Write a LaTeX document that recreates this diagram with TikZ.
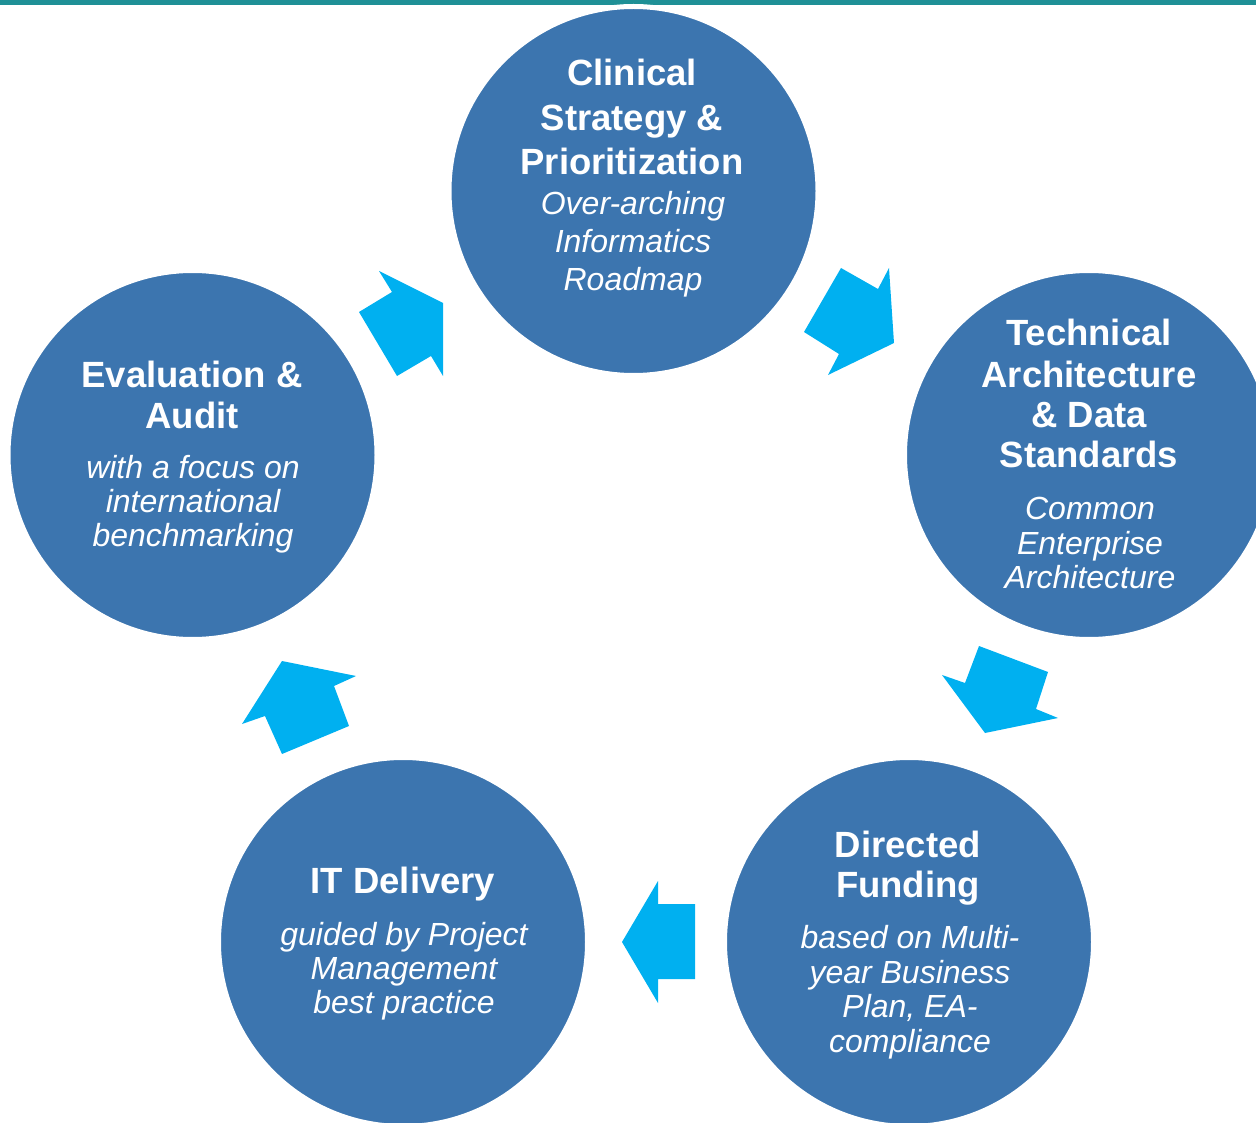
\documentclass[tikz,border=0pt]{standalone}
\usepackage{fontspec}
\setmainfont{Liberation Sans}
\definecolor{circ}{HTML}{3C75AF}
\definecolor{arr}{HTML}{00B0F0}
\definecolor{topbar}{HTML}{1F9096}
\begin{document}
\begin{tikzpicture}[x=1pt,y=-1pt,
  stage/.style={circle,fill=circ,draw=white,line width=5pt,minimum size=369pt,inner sep=0pt},
  ttl/.style={text=white,font=\fontsize{36.5}{40}\selectfont\bfseries,anchor=base,inner sep=0pt},
  sub/.style={text=white,font=\fontsize{32}{35}\selectfont\itshape,anchor=base,inner sep=0pt},
  blockarrow/.style={fill=arr}]
\useasboundingbox (0,0) rectangle (1256,1123);
\clip (0,0) rectangle (1256,1123);
\fill[topbar] (0,0) rectangle (1256,5);

% circles
\node[stage] (clin) at (633.5,191) {};
\node[stage] (tech) at (1089,455) {};
\node[stage] (fund) at (909,942) {};
\node[stage] (deliv) at (403,942) {};
\node[stage] (eval) at (192.5,455) {};

% arrows
\fill[blockarrow] (379,271) -- (443,303) -- (443,376) -- (431,356) -- (397,376) -- (359,312) -- (392,292) -- cycle;
\fill[blockarrow] (841,268) -- (878,289) -- (889,268) -- (894,343) -- (828,375) -- (839,354) -- (804,332) -- cycle;
\fill[blockarrow] (979,646) -- (1048,672) -- (1036,709) -- (1058,718) -- (985,733) -- (942,675) -- (965,683) -- cycle;
\fill[blockarrow] (622,942) -- (658,881) -- (658,904) -- (695,904) -- (695,979) -- (658,979) -- (658,1003) -- cycle;
\fill[blockarrow] (282,661) -- (356,676) -- (334,686) -- (349,726) -- (282,754) -- (265,716) -- (242,724) -- cycle;

% top circle text
\node[ttl] (c1) at (632,86) {Clinical};
\node[ttl] (c2) at (632,131) {Strategy \&};
\node[ttl] (c3) at (632,175) {Prioritization};
\node[sub] (c4) at (633,215) {Over-arching};
\node[sub] (c5) at (633,253) {Informatics};
\node[sub] (c6) at (633,291) {Roadmap};

% right circle text
\node[ttl] (t1) at (1089,346) {Technical};
\node[ttl] (t2) at (1089,387) {Architecture};
\node[ttl] (t3) at (1089,427) {\& Data};
\node[ttl] (t4) at (1089,467) {Standards};
\node[sub] (t5) at (1090,519) {Common};
\node[sub] (t6) at (1090,554) {Enterprise};
\node[sub] (t7) at (1090,588) {Architecture};

% bottom right text
\node[ttl] (f1) at (908,857) {Directed};
\node[ttl] (f2) at (908,897) {Funding};
\node[sub] (f3) at (910,948) {based on Multi-};
\node[sub] (f4) at (910,983) {year Business};
\node[sub] (f5) at (910,1017) {Plan, EA-};
\node[sub] (f6) at (910,1052) {compliance};

% bottom left text
\node[ttl] (d1) at (403,893) {IT Delivery};
\node[sub] (d2) at (404,945) {guided by Project};
\node[sub] (d3) at (404,979) {Management};
\node[sub] (d4) at (404,1013) {best practice};

% left circle text
\node[ttl] (e1) at (192,388) {Evaluation \&};
\node[ttl] (e2) at (192,428) {Audit};
\node[sub] (e3) at (193,478) {with a focus on};
\node[sub] (e4) at (193,512) {international};
\node[sub] (e5) at (193,546) {benchmarking};
\end{tikzpicture}
\end{document}
